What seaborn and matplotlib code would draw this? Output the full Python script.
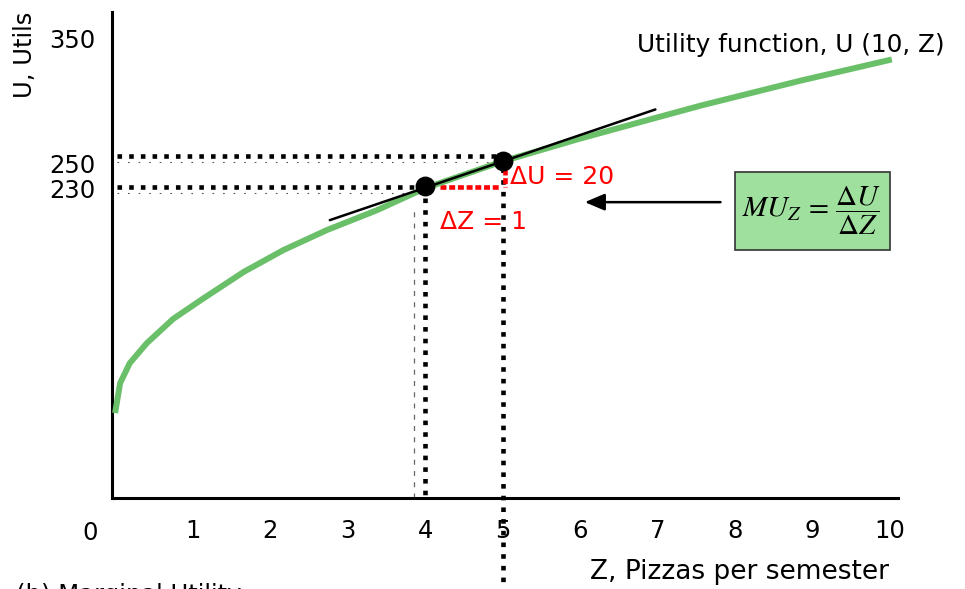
import matplotlib
matplotlib.use("Agg")
import matplotlib.pyplot as plt
import matplotlib.transforms as mtransforms
from matplotlib.patches import Rectangle
import seaborn as sns
import pandas as pd

# ---- data ----
z_curve = [0, 0.065, 0.19, 0.41, 0.75, 1.14, 1.66, 2.17, 2.73, 3.38, 4.0, 5.0,
           5.96, 6.9, 7.55, 8.84, 10.02]
u_curve = [50, 74, 90, 106, 125.4, 141.8, 163, 180.4, 196.4, 212.4, 230, 251.5,
           269, 285, 296, 316, 333]
z_points = [4, 5]
u_points = [231.5, 251.5]
u_levels = [255.5, 231]          # dotted guide levels (U = 250, U = 230)
tangent_z = [2.77, 6.97]
tangent_u = [204.4, 293]
x_ticks = [1, 2, 3, 4, 5, 6, 7, 8, 9, 10]
y_ticks = [230, 250, 350]
y_ticklabels = ["230", "250", "350"]

sns.set_style("white")
plt.rcParams["font.family"] = ["DejaVu Sans"]
plt.rcParams["text.color"] = "black"
plt.rcParams["xtick.color"] = "black"
plt.rcParams["ytick.color"] = "black"

fig = plt.figure(figsize=(9.65, 5.89), dpi=100)
ax = fig.add_axes([112 / 965, 91 / 589, 786 / 965, 486 / 589])

df = pd.DataFrame({"Z": z_curve, "U": u_curve})
sns.lineplot(data=df, x="Z", y="U", sort=False, color="#6abf69", lw=4.3, ax=ax,
             solid_capstyle="butt", zorder=3)

dot = (0, (1.0, 1.55))
lw_dot = 3.3
# horizontal dotted guides
ax.plot([0.03, z_points[1]], [u_levels[0]] * 2, color="black", lw=lw_dot, ls=dot,
        dash_capstyle="butt", zorder=2)
ax.plot([0.03, z_points[0]], [u_levels[1]] * 2, color="black", lw=lw_dot, ls=dot,
        dash_capstyle="butt", zorder=2)
# faint companion lines
ax.plot([0.03, z_points[1]], [u_levels[0] - 4.5] * 2, color="#555555", lw=0.8,
        ls=(0, (1.5, 8)), zorder=1)
ax.plot([0.03, z_points[0]], [u_levels[1] - 4.5] * 2, color="#555555", lw=0.8,
        ls=(0, (1.5, 8)), zorder=1)
ax.plot([z_points[0] - 0.15] * 2, [-18, 212], color="#666666", lw=0.9,
        ls=(0, (4, 5)), zorder=1)

# vertical dotted guides
ax.plot([z_points[0]] * 2, [222, -18], color="black", lw=lw_dot, ls=dot,
        dash_capstyle="butt", zorder=2)
ax.plot([z_points[1]] * 2, [246, -91], color="black", lw=lw_dot, ls=dot,
        dash_capstyle="butt", zorder=2, clip_on=False)

# red delta segments
red_dot = (0, (1.3, 0.6))
ax.plot([4.19, 4.97], [230.8, 230.8], color="#ff0000", lw=lw_dot, ls=red_dot,
        dash_capstyle="butt", zorder=2)
ax.plot([5.03, 5.03], [245, 231], color="#ff0000", lw=lw_dot, ls=red_dot,
        dash_capstyle="butt", zorder=2)

# tangent line
ax.plot(tangent_z, tangent_u, color="black", lw=1.8, zorder=4)

# points
sns.scatterplot(x=z_points, y=u_points, s=175, color="black", edgecolor="black",
                ax=ax, zorder=6)

ax.set_xlim(-0.04, 10.1)
ax.set_ylim(-18, 371)
ax.set_xticks(x_ticks)
ax.set_xticklabels([str(t) for t in x_ticks])
ax.set_yticks(y_ticks)
ax.set_yticklabels(y_ticklabels)
ax.tick_params(axis="x", length=0, labelsize=17.5, pad=15)
ax.tick_params(axis="y", length=0, labelsize=17.5, pad=12)
ax.set_xlabel("")
ax.set_ylabel("")
for s in ["top", "right"]:
    ax.spines[s].set_visible(False)
for s in ["left", "bottom"]:
    ax.spines[s].set_linewidth(2.2)
    ax.spines[s].set_color("black")

blend = mtransforms.blended_transform_factory(ax.transData, ax.transAxes)
ax.text(-0.32, -0.071, "0", transform=blend, ha="center", va="center", fontsize=17.5)

# arrow to the tangent
ax.annotate("", xy=(6.06, 218.8), xytext=(7.81, 218.8),
            arrowprops=dict(arrowstyle="-|>,head_length=0.4,head_width=0.17",
                            mutation_scale=30, lw=1.8, color="black",
                            shrinkA=0, shrinkB=0))

# texts
fig.text(25 / 965, 1 - 55 / 589, "U, Utils", rotation=90, ha="center", va="center",
         fontsize=17.5)
fig.text(889 / 965, 1 - 572 / 589, "Z, Pizzas per semester", ha="right", va="center",
         fontsize=19)
fig.text(945 / 965, 1 - 45 / 589, "Utility function, U (10, Z)", ha="right",
         va="center", fontsize=17.8)
fig.text(510 / 965, 1 - 177 / 589, "\u0394U = 20", color="#ff0000", ha="left",
         va="center", fontsize=18)
fig.text(440 / 965, 1 - 222 / 589, "\u0394Z = 1", color="#ff0000", ha="left",
         va="center", fontsize=18)
fig.text(16 / 965, -13 / 589, "(b) Marginal Utility", ha="left", va="baseline",
         fontsize=17.5)

# formula box
fig.add_artist(Rectangle((735 / 965, 1 - 250 / 589), 155 / 965, 78 / 589,
                         transform=fig.transFigure, facecolor="#9fe09f",
                         edgecolor="#333333", lw=1.2, zorder=1))
fig.text(812 / 965, 1 - 211 / 589, r"$MU_Z\,=\,\dfrac{\Delta U}{\Delta Z}$",
         ha="center", va="center", fontsize=21, math_fontfamily="stix", zorder=2)

fig.savefig("out.png", dpi=100)
